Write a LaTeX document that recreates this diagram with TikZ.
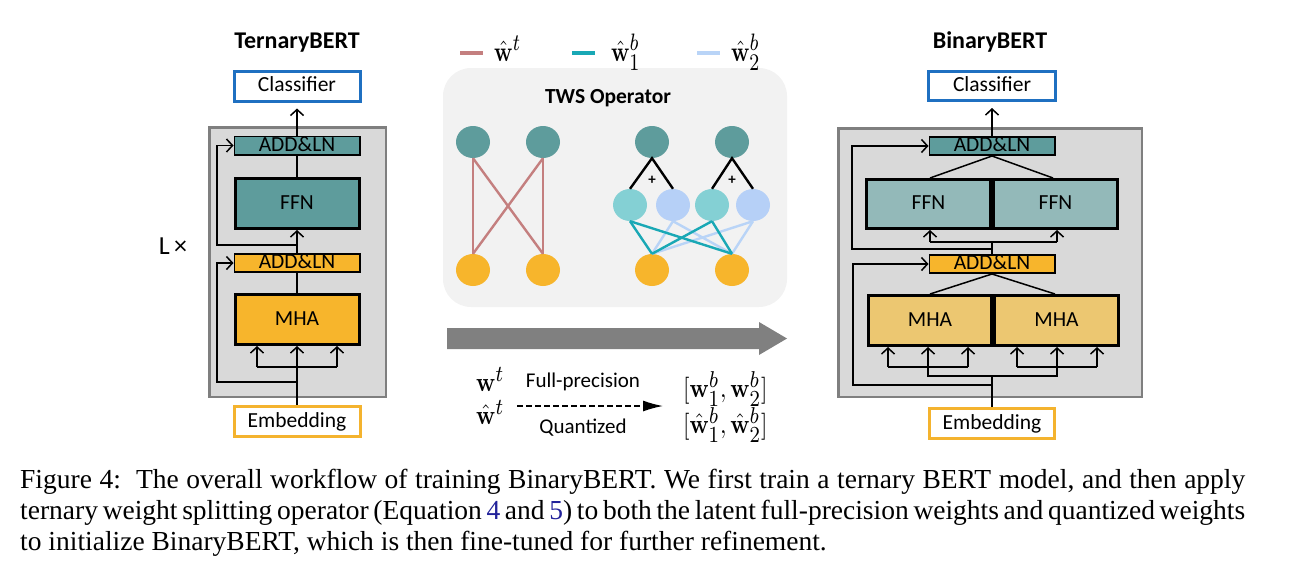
\RequirePackage{fix-cm}
\documentclass[tikz,border=0pt]{standalone}
\usepackage[no-math]{fontspec}
\setmainfont{Liberation Serif}
\newfontfamily\calfont{Carlito}
\usepackage{amsmath}
\usepackage{graphicx}
\DeclareMathSizes{10}{10}{8.5}{7}
\usetikzlibrary{arrows.meta,shapes.geometric}
\definecolor{tealD}{HTML}{5E9C9C}
\definecolor{orangeT}{HTML}{F7B52C}
\definecolor{tealL}{HTML}{93B9B9}
\definecolor{orangeL}{HTML}{ECC771}
\definecolor{bggray}{HTML}{D9D9D9}
\definecolor{boxgray}{HTML}{7F7F7F}
\definecolor{clsblue}{HTML}{1F70C1}
\definecolor{embor}{HTML}{F4B32E}
\definecolor{twsbg}{HTML}{F2F2F2}
\definecolor{pinkL}{HTML}{C47F7F}
\definecolor{tealLine}{HTML}{19A8B5}
\definecolor{blueLine}{HTML}{B9D4F7}
\definecolor{tealC}{HTML}{84D0D4}
\definecolor{blueC}{HTML}{B6D0F7}
\definecolor{arrgray}{HTML}{808080}
\definecolor{linkblue}{HTML}{22229A}
\newcommand{\legmath}[1]{\scalebox{2.2}[2.8]{\fontsize{10}{12}\selectfont$#1$}}
\newcommand{\eqmath}[1]{\scalebox{2.3}[2.7]{\fontsize{10}{12}\selectfont$#1$}}
\begin{document}
\begin{tikzpicture}[x=1pt,y=-1pt,
  lbl/.style={font=\calfont\fontsize{21.5}{24}\selectfont, text height=14pt, text depth=3pt},
  ttl/.style={font=\calfont\bfseries\fontsize{24}{26}\selectfont},
  blk/.style={draw=black, line width=3pt, inner sep=0pt, lbl},
  addln/.style={draw=black, line width=1.8pt, inner sep=0pt, minimum width=125.2pt, minimum height=18.2pt, lbl},
  conn/.style={line width=1.5pt, draw=black},
  arr/.style={conn, -{Straight Barb[length=6pt,width=13pt,line width=1.5pt]}},
  dot/.style={ellipse, minimum width=34pt, minimum height=32pt, inner sep=0pt},
  wline/.style={line width=2.4pt},
  mth/.style={inner sep=0pt, anchor=base west},
  captxt/.style={font=\fontsize{27.5}{31}\selectfont, inner sep=0pt, anchor=base west}
]
\useasboundingbox (0,0) rectangle (1289,565);

% ---------------- TernaryBERT ----------------
\node[ttl] (tttl) at (297,43) {TernaryBERT};
\node[blk, draw=clsblue, fill=white, minimum width=126pt, minimum height=30pt] (tcls) at (297,86) {Classifier};
\node[draw=boxgray, fill=bggray, line width=2.5pt, minimum width=176.5pt, minimum height=269.5pt, inner sep=0pt] (tgray) at (297.5,262) {};
\node[font=\calfont\fontsize{26}{28}\selectfont, inner sep=0pt] (lx) at (173,246) {L\,×};
\node[addln, fill=tealD] (tadd2) at (297,145.5) {ADD\&LN};
\node[blk, fill=tealD, minimum width=124pt, minimum height=50pt] (tffn) at (297,203.5) {FFN};
\node[addln, fill=orangeT] (tadd1) at (297,263) {ADD\&LN};
\node[blk, fill=orangeT, minimum width=124pt, minimum height=50pt] (tmha) at (297,319.5) {MHA};
\node[blk, draw=embor, fill=white, minimum width=126pt, minimum height=30pt] (temb) at (297,421.5) {Embedding};

\coordinate (tl) at (257,367);
\coordinate (tr) at (337,367);
\coordinate (tres1) at (297,382);
\coordinate (tres2) at (297,245);
\draw[arr] (temb.north) -- (tmha.south);
\draw[conn] (tl) -- (tr);
\draw[arr] (tl) -- (tl |- tmha.south);
\draw[arr] (tr) -- (tr |- tmha.south);
\draw[arr] (tres1) -- ++(-80,0) |- (tadd1.west);
\draw[conn] (tmha.north) -- (tadd1.south);
\draw[arr] (tadd1.north) -- (tffn.south);
\draw[arr] (tres2) -- ++(-80,0) |- (tadd2.west);
\draw[conn] (tffn.north) -- (tadd2.south);
\draw[arr, shorten >=6pt] (tadd2.north) -- (tcls.south);

% ---------------- BinaryBERT ----------------
\node[ttl] (bttl) at (990,42) {BinaryBERT};
\node[blk, draw=clsblue, fill=white, minimum width=127pt, minimum height=29pt] (bcls) at (992,86) {Classifier};
\node[draw=boxgray, fill=bggray, line width=2.5pt, minimum width=303.5pt, minimum height=268.5pt, inner sep=0pt] (bgray) at (990,262.5) {};
\node[addln, fill=tealD] (badd2) at (992,146) {ADD\&LN};
\node[blk, fill=tealL, minimum width=124pt, minimum height=49pt] (bffn1) at (928.5,204) {FFN};
\node[blk, fill=tealL, minimum width=124pt, minimum height=49pt] (bffn2) at (1055.5,204) {FFN};
\node[addln, fill=orangeT] (badd1) at (992,264) {ADD\&LN};
\node[blk, fill=orangeL, minimum width=123pt, minimum height=50pt] (bmha1) at (930,320.5) {MHA};
\node[blk, fill=orangeL, minimum width=124pt, minimum height=50pt] (bmha2) at (1056.5,320.5) {MHA};
\node[blk, draw=embor, fill=white, minimum width=125pt, minimum height=30pt] (bemb) at (992,423.5) {Embedding};

\draw[conn] (badd2.south) -- (930,178);
\draw[conn] (badd2.south) -- (1053,178);
\coordinate (bf1) at (930,242);
\coordinate (bf2) at (1057,242);
\draw[conn] (bf1) -- (bf2);
\draw[arr] (bf1) -- (bf1 |- bffn1.south);
\draw[arr] (bf2) -- (bf2 |- bffn2.south);
\draw[conn] (badd1.north) -- (badd1.north |- bf1);
\coordinate (bres2) at (992,249);
\draw[arr] (bres2) -- (852,249) |- (badd2.west);
\draw[conn] (badd1.south) -- (930,294);
\draw[conn] (badd1.south) -- (1055,294);
\coordinate (m1) at (888,367);
\coordinate (m2) at (928,367);
\coordinate (m3) at (968,367);
\coordinate (m4) at (1017,367);
\coordinate (m5) at (1057,367);
\coordinate (m6) at (1097,367);
\foreach \p in {m1,m2,m3} \draw[arr] (\p) -- (\p |- bmha1.south);
\foreach \p in {m4,m5,m6} \draw[arr] (\p) -- (\p |- bmha2.south);
\draw[conn] (m1) -- (m3);
\draw[conn] (m4) -- (m6);
\draw[conn] (m2) -- ++(0,9) -| (m5);
\draw[conn] (bemb.north) -- (992,376);
\coordinate (bres1) at (992,385);
\draw[arr] (bres1) -- (853,385) |- (badd1.west);
\draw[arr, shorten >=6pt] (badd2.north) -- (bcls.south);

% ---------------- TWS operator ----------------
\node[fill=twsbg, rounded corners=28pt, minimum width=344pt, minimum height=239pt, inner sep=0pt] (tws) at (615,187.5) {};
\node[font=\calfont\bfseries\fontsize{21.5}{24}\selectfont] (twst) at (608,98) {TWS Operator};

% ---------------- Legend ----------------
\draw[pinkL, line width=4.5pt] (460,53) -- (483,53);
\node[mth] (lg1) at (494,61) {\legmath{\hat{\mathbf{w}}^t}};
\draw[tealLine, line width=4.5pt] (572,53) -- (595,53);
\node[mth] (lg2) at (611,61) {\legmath{\hat{\mathbf{w}}_1^b}};
\draw[blueLine, line width=4.5pt] (697,53) -- (720,53);
\node[mth] (lg3) at (731,61) {\legmath{\hat{\mathbf{w}}_2^b}};

\node[dot, fill=tealD] (lt1) at (473,142) {};
\node[dot, fill=tealD] (lt2) at (543,142) {};
\node[dot, fill=orangeT] (lb1) at (473,270) {};
\node[dot, fill=orangeT] (lb2) at (543,270) {};
\draw[wline, pinkL] (lt1.south) -- (lb1.north);
\draw[wline, pinkL] (lt1.south) -- (lb2.north);
\draw[wline, pinkL] (lt2.south) -- (lb1.north);
\draw[wline, pinkL] (lt2.south) -- (lb2.north);

\node[dot, fill=tealD] (rt1) at (652,142) {};
\node[dot, fill=tealD] (rt2) at (732,142) {};
\node[dot, fill=tealC] (c1) at (630,205) {};
\node[dot, fill=blueC] (c2) at (673,205) {};
\node[dot, fill=tealC] (c3) at (712,205) {};
\node[dot, fill=blueC] (c4) at (753,205) {};
\node[dot, fill=orangeT] (rb1) at (652,270) {};
\node[dot, fill=orangeT] (rb2) at (732,270) {};
\draw[wline, black] (c1.north) -- (rt1.south) -- (c2.north);
\draw[wline, black] (c3.north) -- (rt2.south) -- (c4.north);
\node[font=\calfont\bfseries\fontsize{15}{15}\selectfont, inner sep=0pt] (p1) at (652,180) {+};
\node[font=\calfont\bfseries\fontsize{15}{15}\selectfont, inner sep=0pt] (p2) at (732,180) {+};
\draw[wline, blueLine] (c2.south) -- (rb1.north);
\draw[wline, blueLine] (c2.south) -- (rb2.north);
\draw[wline, blueLine] (c4.south) -- (rb1.north);
\draw[wline, blueLine] (c4.south) -- (rb2.north);
\draw[wline, tealLine] (c1.south) -- (rb1.north);
\draw[wline, tealLine] (c1.south) -- (rb2.north);
\draw[wline, tealLine] (c3.south) -- (rb1.north);
\draw[wline, tealLine] (c3.south) -- (rb2.north);

% ---------------- Big arrow ----------------
\fill[arrgray] (447,328) -- (759,328) -- (759,322) -- (787,338.5) -- (759,355) -- (759,349) -- (447,349) -- cycle;

% ---------------- Equation ----------------
\node[mth] (wt) at (476,391) {\eqmath{\mathbf{w}^t}};
\node[mth] (wht) at (476,424) {\eqmath{\hat{\mathbf{w}}^t}};
\node[mth] (wb) at (683,397) {\eqmath{[\mathbf{w}_1^b,\mathbf{w}_2^b]}};
\node[mth] (whb) at (683,433) {\eqmath{[\hat{\mathbf{w}}_1^b,\hat{\mathbf{w}}_2^b]}};
\coordinate (da) at (517,406);
\coordinate (db) at (663,406);
\draw[line width=1.4pt, dash pattern=on 6pt off 3pt, -{Latex[length=20pt,width=11pt]}] (da) -- (db);
\node[font=\calfont\fontsize{21}{24}\selectfont] (fp) at (583,382) {Full-precision};
\node[font=\calfont\fontsize{21}{24}\selectfont] (qz) at (583,428) {Quantized};

% ---------------- Caption ----------------
\node[captxt] (cap1) at (20,488) {\makebox[1225pt][s]{Figure 4:\ \ The overall workflow of training BinaryBERT. We first train a ternary BERT model, and then apply}};
\node[captxt] (cap2) at (20,519) {\makebox[1225pt][s]{ternary weight splitting operator (Equation {\color{linkblue}4} and {\color{linkblue}5}) to both the latent full-precision weights and quantized weights}};
\node[captxt] (cap3) at (20,550) {to initialize BinaryBERT, which is then fine-tuned for further refinement.};
\end{tikzpicture}
\end{document}
